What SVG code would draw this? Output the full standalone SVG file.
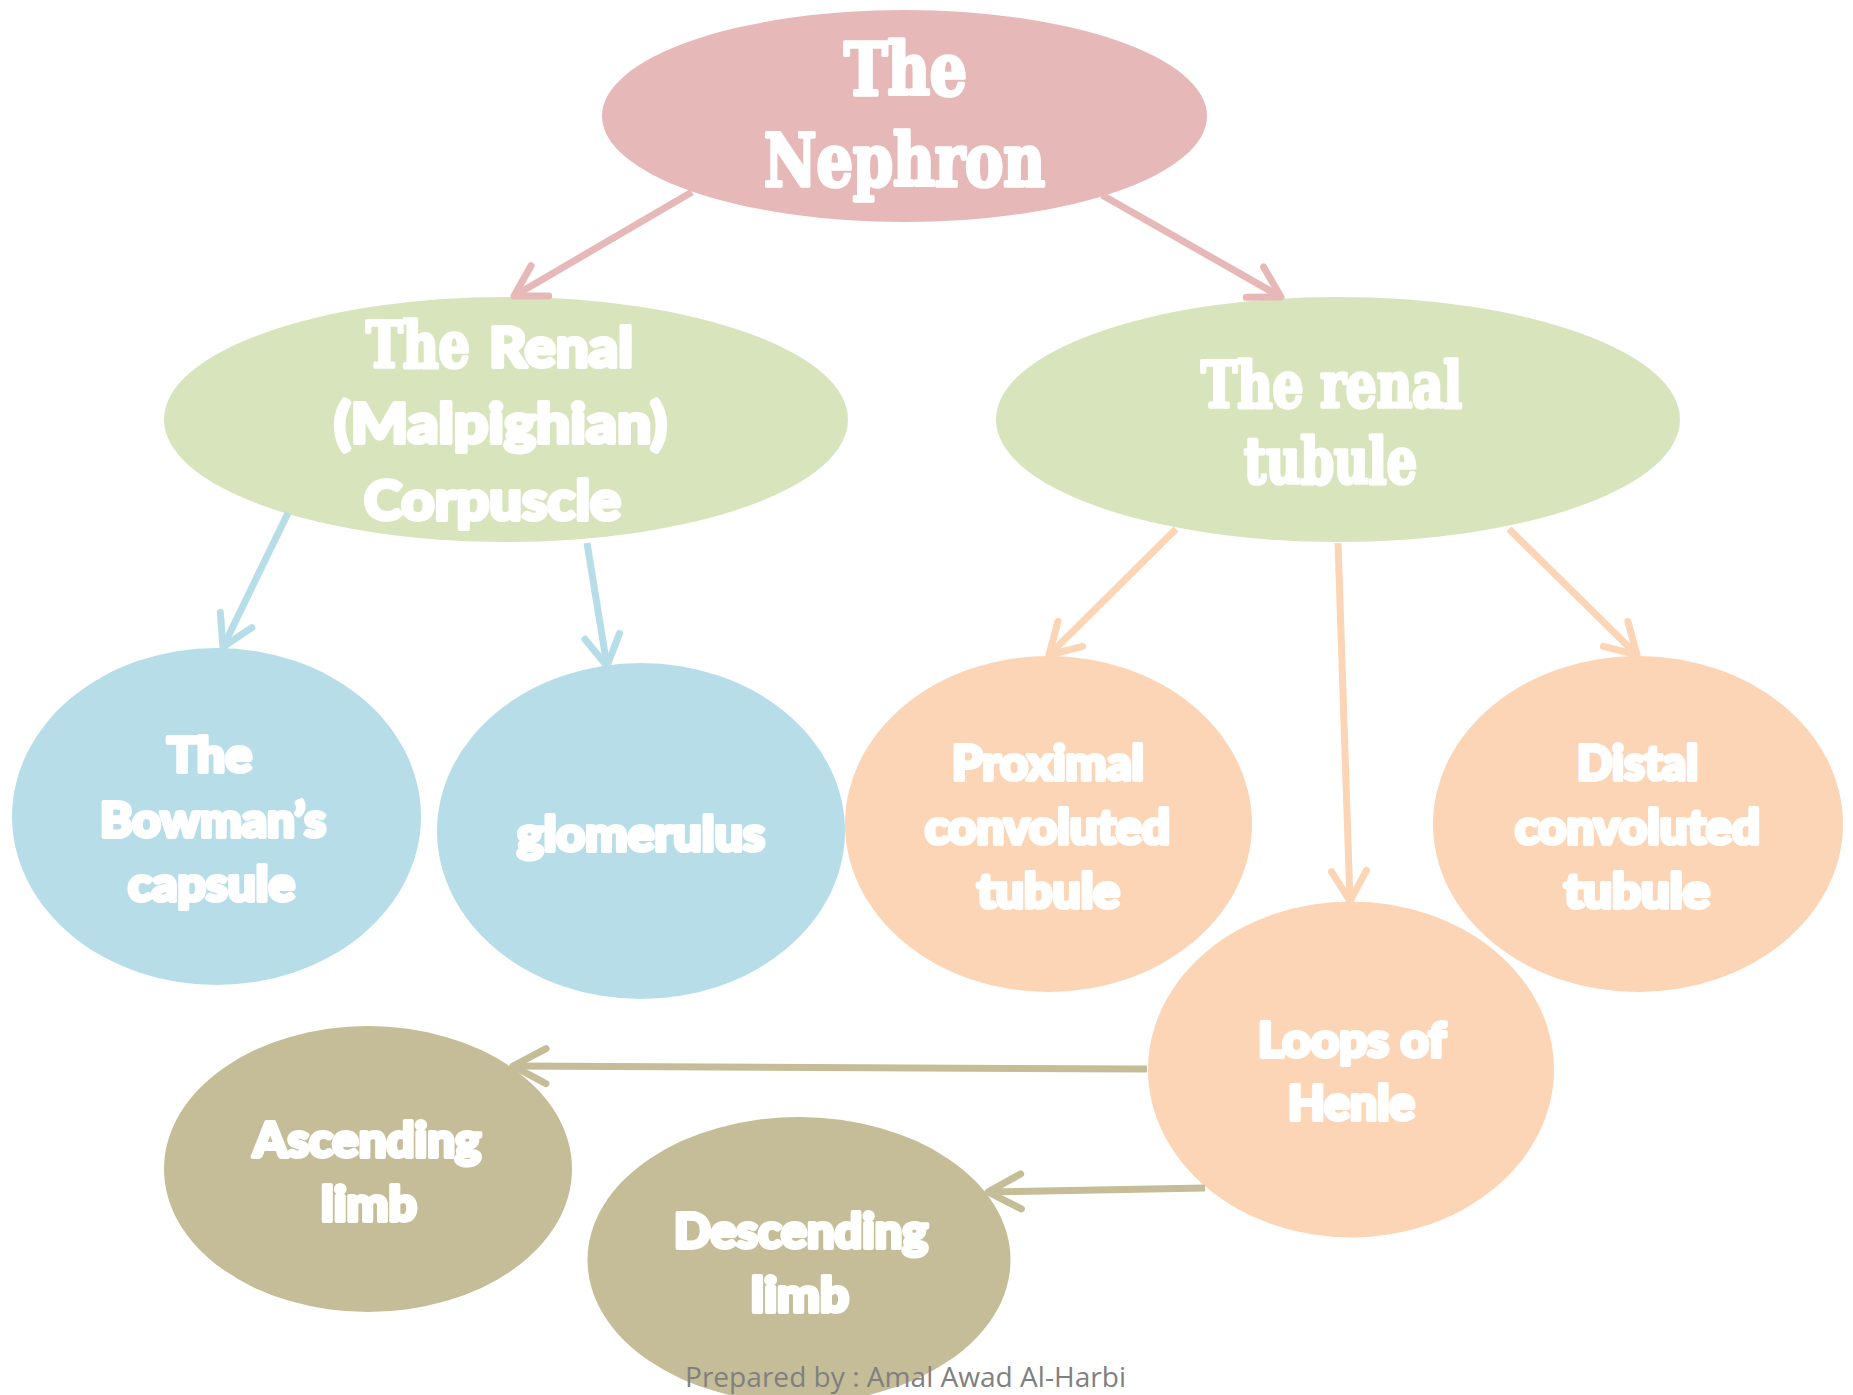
<svg xmlns="http://www.w3.org/2000/svg" width="1853" height="1395" viewBox="0 0 1853 1395">
<style>
.serif{font-family:"DejaVu Serif Condensed","DejaVu Serif","Liberation Serif",serif;font-weight:bold;font-stretch:condensed;fill:#fff;stroke:#fff;stroke-width:3.5;stroke-linejoin:round;paint-order:stroke}
.sans{font-family:Lato,"Open Sans","Liberation Sans",sans-serif;font-weight:900;fill:#fff;stroke:#fff;stroke-width:4;stroke-linejoin:round;paint-order:stroke}
.big{font-size:56px}
.mid{font-size:48px}
.pink{fill:#E6B8B7}
.green{fill:#D8E4BC}
.blue{fill:#B7DEE8}
.peach{fill:#FBD5B5}
.olive{fill:#C4BD97}
.c{fill:none;stroke-width:7;stroke-linecap:butt}
.foot{font-family:"Open Sans","Liberation Sans",sans-serif;font-size:28px;fill:#808080}
</style>
<defs>
<marker id="mPink" markerUnits="userSpaceOnUse" markerWidth="80" markerHeight="80" refX="0" refY="0" orient="auto" overflow="visible"><path d="M-30,-17.5 L0,0 L-30,17.5" fill="none" stroke="#E6B8B7" stroke-width="7" stroke-linecap="round" stroke-linejoin="round"/></marker>
<marker id="mBlue" markerUnits="userSpaceOnUse" markerWidth="80" markerHeight="80" refX="0" refY="0" orient="auto" overflow="visible"><path d="M-30,-17.5 L0,0 L-30,17.5" fill="none" stroke="#B7DEE8" stroke-width="7" stroke-linecap="round" stroke-linejoin="round"/></marker>
<marker id="mPeach" markerUnits="userSpaceOnUse" markerWidth="80" markerHeight="80" refX="0" refY="0" orient="auto" overflow="visible"><path d="M-30,-17.5 L0,0 L-30,17.5" fill="none" stroke="#FBD5B5" stroke-width="7" stroke-linecap="round" stroke-linejoin="round"/></marker>
<marker id="mOlive" markerUnits="userSpaceOnUse" markerWidth="80" markerHeight="80" refX="0" refY="0" orient="auto" overflow="visible"><path d="M-33,-17.5 L0,0 L-33,17.5" fill="none" stroke="#C4BD97" stroke-width="7" stroke-linecap="round" stroke-linejoin="round"/></marker>
</defs>
<rect width="1853" height="1395" fill="#fff"/>

<g id="nephron">
<ellipse class="pink" cx="904.5" cy="116" rx="302.5" ry="106"/>
<text class="serif" style="font-size:72px" x="844" y="95" textLength="123" lengthAdjust="spacingAndGlyphs">The</text>
<text class="serif" style="font-size:72px" x="764" y="186" textLength="281" lengthAdjust="spacingAndGlyphs">Nephron</text>
</g>

<g id="corpuscle">
<ellipse class="green" cx="506" cy="419.5" rx="342" ry="122.5"/>
<text class="serif" style="font-size:64px" x="366" y="367" textLength="104" lengthAdjust="spacingAndGlyphs">The</text>
<text class="sans big" x="489" y="367" textLength="144" lengthAdjust="spacingAndGlyphs">Renal</text>
<text class="sans big" x="334" y="443" textLength="333" lengthAdjust="spacingAndGlyphs">(Malpighian)</text>
<text class="sans big" x="364" y="520" textLength="257" lengthAdjust="spacingAndGlyphs">Corpuscle</text>
</g>

<g id="tubule">
<ellipse class="green" cx="1338" cy="419.5" rx="342" ry="122.5"/>
<text class="serif" style="font-size:64px" x="1201" y="407" textLength="261" lengthAdjust="spacingAndGlyphs">The renal</text>
<text class="serif" style="font-size:64px" x="1244" y="483" textLength="173" lengthAdjust="spacingAndGlyphs">tubule</text>
</g>

<g id="bowman">
<ellipse class="blue" cx="216.5" cy="816.5" rx="204.5" ry="168.5"/>
<text class="sans mid" x="167" y="772" textLength="85" lengthAdjust="spacingAndGlyphs">The</text>
<text class="sans mid" x="100" y="837" textLength="226" lengthAdjust="spacingAndGlyphs">Bowman’s</text>
<text class="sans mid" x="128" y="901" textLength="167" lengthAdjust="spacingAndGlyphs">capsule</text>
</g>

<g id="glomerulus">
<ellipse class="blue" cx="641" cy="831" rx="204" ry="168"/>
<text class="sans mid" x="517" y="851" textLength="248" lengthAdjust="spacingAndGlyphs">glomerulus</text>
</g>

<g id="proximal">
<ellipse class="peach" cx="1048.5" cy="824" rx="203.5" ry="168"/>
<text class="sans mid" x="952" y="780" textLength="192" lengthAdjust="spacingAndGlyphs">Proximal</text>
<text class="sans mid" x="925" y="844" textLength="245" lengthAdjust="spacingAndGlyphs">convoluted</text>
<text class="sans mid" x="977" y="908" textLength="143" lengthAdjust="spacingAndGlyphs">tubule</text>
</g>

<g id="distal">
<ellipse class="peach" cx="1638" cy="824" rx="205" ry="168"/>
<text class="sans mid" x="1577" y="780" textLength="121" lengthAdjust="spacingAndGlyphs">Distal</text>
<text class="sans mid" x="1515" y="844" textLength="245" lengthAdjust="spacingAndGlyphs">convoluted</text>
<text class="sans mid" x="1564" y="908" textLength="146" lengthAdjust="spacingAndGlyphs">tubule</text>
</g>

<g id="henle">
<ellipse class="peach" cx="1351" cy="1069.5" rx="203" ry="168"/>
<text class="sans mid" x="1258" y="1057" textLength="188" lengthAdjust="spacingAndGlyphs">Loops of</text>
<text class="sans mid" x="1288" y="1120" textLength="127" lengthAdjust="spacingAndGlyphs">Henle</text>
</g>

<g id="ascending">
<ellipse class="olive" cx="368" cy="1169" rx="204" ry="143"/>
<text class="sans mid" x="253" y="1157" textLength="228" lengthAdjust="spacingAndGlyphs">Ascending</text>
<text class="sans mid" x="321" y="1221" textLength="96" lengthAdjust="spacingAndGlyphs">limb</text>
</g>

<g id="descending">
<ellipse class="olive" cx="799" cy="1260" rx="211.5" ry="143"/>
<text class="sans mid" x="674" y="1248" textLength="254" lengthAdjust="spacingAndGlyphs">Descending</text>
<text class="sans mid" x="751" y="1312" textLength="98" lengthAdjust="spacingAndGlyphs">limb</text>
</g>

<g id="connectors">
<line class="c" stroke="#E6B8B7" x1="692" y1="192" x2="514" y2="296" marker-end="url(#mPink)"/>
<line class="c" stroke="#E6B8B7" x1="1102" y1="195" x2="1281" y2="297" marker-end="url(#mPink)"/>
<line class="c" stroke="#B7DEE8" x1="288" y1="513" x2="223" y2="647" marker-end="url(#mBlue)"/>
<line class="c" stroke="#B7DEE8" x1="587" y1="543" x2="607" y2="666" marker-end="url(#mBlue)"/>
<line class="c" stroke="#FBD5B5" x1="1176" y1="529" x2="1049" y2="655" marker-end="url(#mPeach)"/>
<line class="c" stroke="#FBD5B5" x1="1338" y1="543" x2="1350" y2="901" marker-end="url(#mPeach)"/>
<line class="c" stroke="#FBD5B5" x1="1509" y1="529" x2="1637" y2="655" marker-end="url(#mPeach)"/>
<line class="c" stroke="#C4BD97" x1="1147" y1="1069" x2="513" y2="1066" marker-end="url(#mOlive)"/>
<line class="c" stroke="#C4BD97" x1="1205" y1="1188" x2="988" y2="1192" marker-end="url(#mOlive)"/>
</g>

<text class="foot" x="685" y="1387" textLength="441" lengthAdjust="spacingAndGlyphs">Prepared by : Amal Awad Al-Harbi</text>
</svg>
